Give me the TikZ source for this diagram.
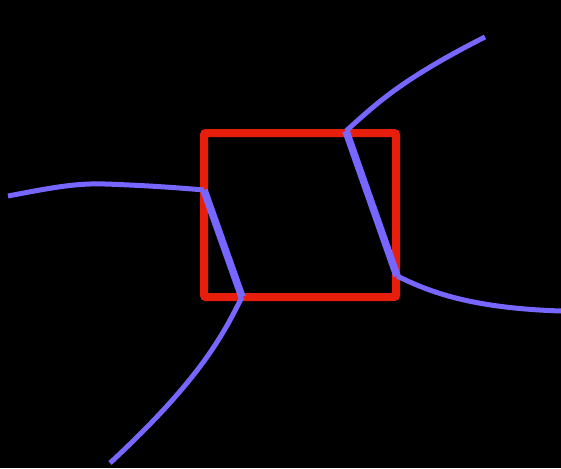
\documentclass[tikz,border=0pt]{standalone}
\usepackage{tikz}
\usetikzlibrary{positioning,calc}
\definecolor{boxred}{HTML}{E81E0C}
\definecolor{wirepurple}{HTML}{7766FF}
\tikzset{
  cellbox/.style={draw=boxred, line width=8pt, rounded corners=2pt,
    minimum width=192pt, minimum height=164pt, inner sep=0pt},
  wire/.style={draw=wirepurple, line width=5pt},
  bond/.style={draw=wirepurple, line width=7.5pt}
}

\begin{document}
\begin{tikzpicture}[x=1pt, y=-1pt]
    \fill[black] (0,0) rectangle (561,468);
    \useasboundingbox (0,0) rectangle (561,468);

    \node[cellbox] (box) at (300,215) {};

    % ends on the box
    \coordinate (wl) at (204,190);
    \coordinate (wb) at (242,297);
    \coordinate (wt) at (346,131);
    \coordinate (wr) at (397,276);
    % free ends
    \coordinate (el) at (8,196);
    \coordinate (eb) at (110,463);
    \coordinate (et) at (485,37);
    \coordinate (er) at (561,311);

    \draw[wire] (el) .. controls (50,188) and (75,183) .. (105,184)
        .. controls (135,185) and (170,187) .. (wl);
    \draw[wire] (wt) .. controls (375,105) and (400,80) .. (et);
    \draw[wire] (wr) .. controls (430,292) and (470,308) .. (er);
    \draw[wire] (wb) .. controls (225,330) and (205,375) .. (eb);

    \draw[bond] (wl) -- (wb);
    \draw[bond] (wt) -- (wr);
\end{tikzpicture}
\end{document}
